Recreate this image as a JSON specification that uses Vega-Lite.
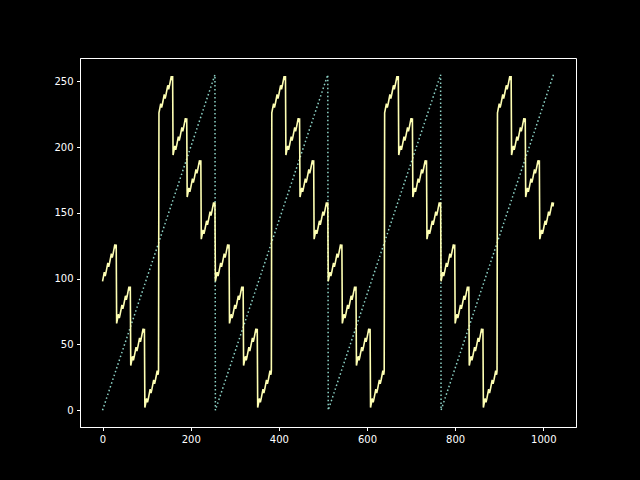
{
  "$schema": "https://vega.github.io/schema/vega-lite/v6.json",
  "background": "black",
  "autosize": "none",
  "padding": {"left": 80, "top": 58, "right": 64, "bottom": 53},
  "width": 496,
  "height": 369,
  "config": {
    "view": {"stroke": "white", "strokeWidth": 1},
    "axis": {
      "domainColor": "white", "tickColor": "white", "labelColor": "white",
      "labelFont": "DejaVu Sans", "labelFontSize": 10, "tickSize": 3.5,
      "labelPadding": 3.5, "grid": false, "title": null, "domainWidth": 1, "tickWidth": 1
    }
  },
  "datasets": {
    "saw": [
      {"x": 0, "y": 0}, {"x": 255, "y": 255}, {"x": 256, "y": 0}, {"x": 511, "y": 255},
      {"x": 512, "y": 0}, {"x": 767, "y": 255}, {"x": 768, "y": 0}, {"x": 1023, "y": 255}
    ],
    "sig": [
      {"x":0,"y":98},{"x":4,"y":105},{"x":6,"y":102},{"x":8,"y":105},{"x":12,"y":112},{"x":14,"y":109},{"x":16,"y":112},{"x":20,"y":119},{"x":22,"y":116},{"x":24,"y":119},{"x":28,"y":126},{"x":30,"y":123},{"x":31,"y":126},
      {"x":32,"y":66},{"x":36,"y":73},{"x":38,"y":70},{"x":40,"y":73},{"x":44,"y":80},{"x":46,"y":77},{"x":48,"y":80},{"x":52,"y":87},{"x":54,"y":84},{"x":56,"y":87},{"x":60,"y":94},{"x":62,"y":91},{"x":63,"y":94},
      {"x":64,"y":34},{"x":68,"y":41},{"x":70,"y":38},{"x":72,"y":41},{"x":76,"y":48},{"x":78,"y":45},{"x":80,"y":48},{"x":84,"y":55},{"x":86,"y":52},{"x":88,"y":55},{"x":92,"y":62},{"x":94,"y":59},{"x":95,"y":62},
      {"x":96,"y":2},{"x":100,"y":9},{"x":102,"y":6},{"x":104,"y":9},{"x":108,"y":16},{"x":110,"y":13},{"x":112,"y":16},{"x":116,"y":23},{"x":118,"y":20},{"x":120,"y":23},{"x":124,"y":30},{"x":126,"y":27},{"x":127,"y":30},
      {"x":128,"y":226},{"x":132,"y":233},{"x":134,"y":230},{"x":136,"y":233},{"x":140,"y":240},{"x":142,"y":237},{"x":144,"y":240},{"x":148,"y":247},{"x":150,"y":244},{"x":152,"y":247},{"x":156,"y":254},{"x":158,"y":251},{"x":159,"y":254},
      {"x":160,"y":194},{"x":164,"y":201},{"x":166,"y":198},{"x":168,"y":201},{"x":172,"y":208},{"x":174,"y":205},{"x":176,"y":208},{"x":180,"y":215},{"x":182,"y":212},{"x":184,"y":215},{"x":188,"y":222},{"x":190,"y":219},{"x":191,"y":222},
      {"x":192,"y":162},{"x":196,"y":169},{"x":198,"y":166},{"x":200,"y":169},{"x":204,"y":176},{"x":206,"y":173},{"x":208,"y":176},{"x":212,"y":183},{"x":214,"y":180},{"x":216,"y":183},{"x":220,"y":190},{"x":222,"y":187},{"x":223,"y":190},
      {"x":224,"y":130},{"x":228,"y":137},{"x":230,"y":134},{"x":232,"y":137},{"x":236,"y":144},{"x":238,"y":141},{"x":240,"y":144},{"x":244,"y":151},{"x":246,"y":148},{"x":248,"y":151},{"x":252,"y":158},{"x":254,"y":155},{"x":255,"y":158},

      {"x":256,"y":98},{"x":260,"y":105},{"x":262,"y":102},{"x":264,"y":105},{"x":268,"y":112},{"x":270,"y":109},{"x":272,"y":112},{"x":276,"y":119},{"x":278,"y":116},{"x":280,"y":119},{"x":284,"y":126},{"x":286,"y":123},{"x":287,"y":126},
      {"x":288,"y":66},{"x":292,"y":73},{"x":294,"y":70},{"x":296,"y":73},{"x":300,"y":80},{"x":302,"y":77},{"x":304,"y":80},{"x":308,"y":87},{"x":310,"y":84},{"x":312,"y":87},{"x":316,"y":94},{"x":318,"y":91},{"x":319,"y":94},
      {"x":320,"y":34},{"x":324,"y":41},{"x":326,"y":38},{"x":328,"y":41},{"x":332,"y":48},{"x":334,"y":45},{"x":336,"y":48},{"x":340,"y":55},{"x":342,"y":52},{"x":344,"y":55},{"x":348,"y":62},{"x":350,"y":59},{"x":351,"y":62},
      {"x":352,"y":2},{"x":356,"y":9},{"x":358,"y":6},{"x":360,"y":9},{"x":364,"y":16},{"x":366,"y":13},{"x":368,"y":16},{"x":372,"y":23},{"x":374,"y":20},{"x":376,"y":23},{"x":380,"y":30},{"x":382,"y":27},{"x":383,"y":30},
      {"x":384,"y":226},{"x":388,"y":233},{"x":390,"y":230},{"x":392,"y":233},{"x":396,"y":240},{"x":398,"y":237},{"x":400,"y":240},{"x":404,"y":247},{"x":406,"y":244},{"x":408,"y":247},{"x":412,"y":254},{"x":414,"y":251},{"x":415,"y":254},
      {"x":416,"y":194},{"x":420,"y":201},{"x":422,"y":198},{"x":424,"y":201},{"x":428,"y":208},{"x":430,"y":205},{"x":432,"y":208},{"x":436,"y":215},{"x":438,"y":212},{"x":440,"y":215},{"x":444,"y":222},{"x":446,"y":219},{"x":447,"y":222},
      {"x":448,"y":162},{"x":452,"y":169},{"x":454,"y":166},{"x":456,"y":169},{"x":460,"y":176},{"x":462,"y":173},{"x":464,"y":176},{"x":468,"y":183},{"x":470,"y":180},{"x":472,"y":183},{"x":476,"y":190},{"x":478,"y":187},{"x":479,"y":190},
      {"x":480,"y":130},{"x":484,"y":137},{"x":486,"y":134},{"x":488,"y":137},{"x":492,"y":144},{"x":494,"y":141},{"x":496,"y":144},{"x":500,"y":151},{"x":502,"y":148},{"x":504,"y":151},{"x":508,"y":158},{"x":510,"y":155},{"x":511,"y":158},

      {"x":512,"y":98},{"x":516,"y":105},{"x":518,"y":102},{"x":520,"y":105},{"x":524,"y":112},{"x":526,"y":109},{"x":528,"y":112},{"x":532,"y":119},{"x":534,"y":116},{"x":536,"y":119},{"x":540,"y":126},{"x":542,"y":123},{"x":543,"y":126},
      {"x":544,"y":66},{"x":548,"y":73},{"x":550,"y":70},{"x":552,"y":73},{"x":556,"y":80},{"x":558,"y":77},{"x":560,"y":80},{"x":564,"y":87},{"x":566,"y":84},{"x":568,"y":87},{"x":572,"y":94},{"x":574,"y":91},{"x":575,"y":94},
      {"x":576,"y":34},{"x":580,"y":41},{"x":582,"y":38},{"x":584,"y":41},{"x":588,"y":48},{"x":590,"y":45},{"x":592,"y":48},{"x":596,"y":55},{"x":598,"y":52},{"x":600,"y":55},{"x":604,"y":62},{"x":606,"y":59},{"x":607,"y":62},
      {"x":608,"y":2},{"x":612,"y":9},{"x":614,"y":6},{"x":616,"y":9},{"x":620,"y":16},{"x":622,"y":13},{"x":624,"y":16},{"x":628,"y":23},{"x":630,"y":20},{"x":632,"y":23},{"x":636,"y":30},{"x":638,"y":27},{"x":639,"y":30},
      {"x":640,"y":226},{"x":644,"y":233},{"x":646,"y":230},{"x":648,"y":233},{"x":652,"y":240},{"x":654,"y":237},{"x":656,"y":240},{"x":660,"y":247},{"x":662,"y":244},{"x":664,"y":247},{"x":668,"y":254},{"x":670,"y":251},{"x":671,"y":254},
      {"x":672,"y":194},{"x":676,"y":201},{"x":678,"y":198},{"x":680,"y":201},{"x":684,"y":208},{"x":686,"y":205},{"x":688,"y":208},{"x":692,"y":215},{"x":694,"y":212},{"x":696,"y":215},{"x":700,"y":222},{"x":702,"y":219},{"x":703,"y":222},
      {"x":704,"y":162},{"x":708,"y":169},{"x":710,"y":166},{"x":712,"y":169},{"x":716,"y":176},{"x":718,"y":173},{"x":720,"y":176},{"x":724,"y":183},{"x":726,"y":180},{"x":728,"y":183},{"x":732,"y":190},{"x":734,"y":187},{"x":735,"y":190},
      {"x":736,"y":130},{"x":740,"y":137},{"x":742,"y":134},{"x":744,"y":137},{"x":748,"y":144},{"x":750,"y":141},{"x":752,"y":144},{"x":756,"y":151},{"x":758,"y":148},{"x":760,"y":151},{"x":764,"y":158},{"x":766,"y":155},{"x":767,"y":158},

      {"x":768,"y":98},{"x":772,"y":105},{"x":774,"y":102},{"x":776,"y":105},{"x":780,"y":112},{"x":782,"y":109},{"x":784,"y":112},{"x":788,"y":119},{"x":790,"y":116},{"x":792,"y":119},{"x":796,"y":126},{"x":798,"y":123},{"x":799,"y":126},
      {"x":800,"y":66},{"x":804,"y":73},{"x":806,"y":70},{"x":808,"y":73},{"x":812,"y":80},{"x":814,"y":77},{"x":816,"y":80},{"x":820,"y":87},{"x":822,"y":84},{"x":824,"y":87},{"x":828,"y":94},{"x":830,"y":91},{"x":831,"y":94},
      {"x":832,"y":34},{"x":836,"y":41},{"x":838,"y":38},{"x":840,"y":41},{"x":844,"y":48},{"x":846,"y":45},{"x":848,"y":48},{"x":852,"y":55},{"x":854,"y":52},{"x":856,"y":55},{"x":860,"y":62},{"x":862,"y":59},{"x":863,"y":62},
      {"x":864,"y":2},{"x":868,"y":9},{"x":870,"y":6},{"x":872,"y":9},{"x":876,"y":16},{"x":878,"y":13},{"x":880,"y":16},{"x":884,"y":23},{"x":886,"y":20},{"x":888,"y":23},{"x":892,"y":30},{"x":894,"y":27},{"x":895,"y":30},
      {"x":896,"y":226},{"x":900,"y":233},{"x":902,"y":230},{"x":904,"y":233},{"x":908,"y":240},{"x":910,"y":237},{"x":912,"y":240},{"x":916,"y":247},{"x":918,"y":244},{"x":920,"y":247},{"x":924,"y":254},{"x":926,"y":251},{"x":927,"y":254},
      {"x":928,"y":194},{"x":932,"y":201},{"x":934,"y":198},{"x":936,"y":201},{"x":940,"y":208},{"x":942,"y":205},{"x":944,"y":208},{"x":948,"y":215},{"x":950,"y":212},{"x":952,"y":215},{"x":956,"y":222},{"x":958,"y":219},{"x":959,"y":222},
      {"x":960,"y":162},{"x":964,"y":169},{"x":966,"y":166},{"x":968,"y":169},{"x":972,"y":176},{"x":974,"y":173},{"x":976,"y":176},{"x":980,"y":183},{"x":982,"y":180},{"x":984,"y":183},{"x":988,"y":190},{"x":990,"y":187},{"x":991,"y":190},
      {"x":992,"y":130},{"x":996,"y":137},{"x":998,"y":134},{"x":1000,"y":137},{"x":1004,"y":144},{"x":1006,"y":141},{"x":1008,"y":144},{"x":1012,"y":151},{"x":1014,"y":148},{"x":1016,"y":151},{"x":1020,"y":158},{"x":1022,"y":155},{"x":1023,"y":158}
    ]
  },
  "encoding": {
    "x": {"field": "x", "type": "quantitative",
      "scale": {"domain": [-51.15, 1074.15], "nice": false, "zero": false},
      "axis": {"values": [0, 200, 400, 600, 800, 1000], "format": "d"}},
    "y": {"field": "y", "type": "quantitative",
      "scale": {"domain": [-12.75, 267.75], "nice": false, "zero": false},
      "axis": {"values": [0, 50, 100, 150, 200, 250], "format": "d"}}
  },
  "layer": [
    {"data": {"name": "saw"},
     "mark": {"type": "line", "color": "#8dd3c7", "strokeWidth": 1.5, "strokeDash": [1.5, 2.5]}},
    {"data": {"name": "sig"},
     "mark": {"type": "line", "color": "#feffb3", "strokeWidth": 1.6, "strokeJoin": "miter"}}
  ]
}
